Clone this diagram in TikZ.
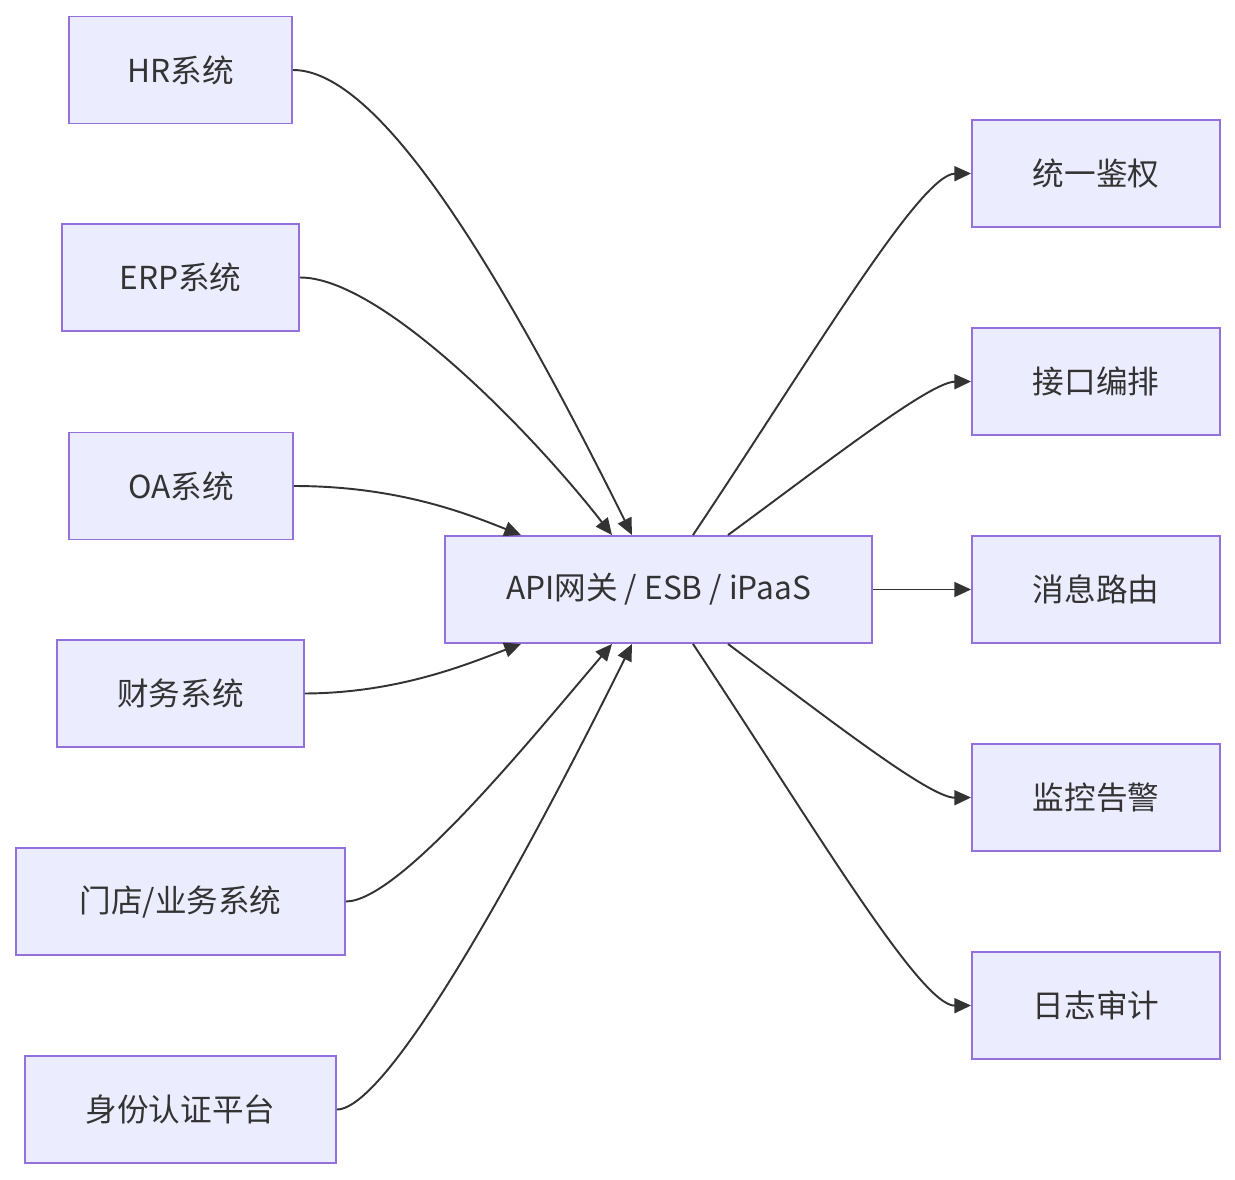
\documentclass[tikz,border=0pt]{standalone}
\usepackage{fontspec}
\setmainfont{Noto Sans CJK SC}
\usepackage{tikz}
\usetikzlibrary{arrows.meta,calc,positioning}
\definecolor{boxfill}{HTML}{ECECFF}
\definecolor{boxline}{HTML}{9370DB}
\definecolor{edgecol}{HTML}{333333}
\tikzset{
    mybox/.style={draw=boxline,fill=boxfill,line width=1.1pt,text=edgecol,minimum height=2.14cm,inner sep=0pt,font=\fontsize{18}{21}\selectfont},
    myedge/.style={line width=1.1pt,draw=edgecol,-{Triangle[length=9.5pt,width=8.5pt]}}
}
\begin{document}
\begin{tikzpicture}[x=0.02cm,y=-0.02cm]
  \useasboundingbox (0,0) rectangle (1235,1180);
  % sources
  \node[mybox,minimum width=4.46cm] (hr)  at (180.5,70)    {HR系统};
  \node[mybox,minimum width=4.74cm] (erp) at (180.5,277.5) {ERP系统};
  \node[mybox,minimum width=4.48cm] (oa)  at (181,486)     {OA系统};
  \node[mybox,minimum width=4.94cm] (fin) at (180.5,693.5) {财务系统};
  \node[mybox,minimum width=6.58cm] (biz) at (180.5,901.5) {门店/业务系统};
  \node[mybox,minimum width=6.22cm] (idp) at (180.5,1109.5) {身份认证平台};
  % gateway
  \node[mybox,minimum width=8.54cm] (gw) at (658.5,589.5) {API网关 / ESB / iPaaS};
  % functions
  \node[mybox,minimum width=4.96cm] (auth) at (1096,173.5)  {统一鉴权};
  \node[mybox,minimum width=4.96cm] (orch) at (1096,381.5)  {接口编排};
  \node[mybox,minimum width=4.96cm] (msg)  at (1096,589.5)  {消息路由};
  \node[mybox,minimum width=4.96cm] (mon)  at (1096,797.5)  {监控告警};
  \node[mybox,minimum width=4.96cm] (log)  at (1096,1005.5) {日志审计};

  \coordinate (gwN1) at ($(gw.north)+(-26.5,0)$);
  \coordinate (gwN2) at ($(gw.north)+(-46.5,0)$);
  \coordinate (gwN3) at ($(gw.north)+(-137.5,0)$);
  \coordinate (gwS1) at ($(gw.south)+(-26.5,0)$);
  \coordinate (gwS2) at ($(gw.south)+(-46.5,0)$);
  \coordinate (gwS3) at ($(gw.south)+(-137.5,0)$);
  \coordinate (gwN4) at ($(gw.north)+(34.5,0)$);
  \coordinate (gwN5) at ($(gw.north)+(69.5,0)$);
  \coordinate (gwS4) at ($(gw.south)+(34.5,0)$);
  \coordinate (gwS5) at ($(gw.south)+(69.5,0)$);

  \draw[myedge] (hr.east)  .. controls (380,70) and (500,270) .. (gwN1);
  \draw[myedge] (erp.east) .. controls (380,277) and (530,430) .. (gwN2);
  \draw[myedge] (oa.east)  .. controls (400,486) and (470,515) .. (gwN3);
  \draw[myedge] (fin.east) .. controls (400,693) and (470,663) .. (gwS3);
  \draw[myedge] (biz.east) .. controls (400,901) and (530,740) .. (gwS2);
  \draw[myedge] (idp.east) .. controls (390,1109) and (530,850) .. (gwS1);

  \draw[myedge] (gwN4) .. controls (810,360) and (920,174) .. (auth.west);
  \draw[myedge] (gwN5) .. controls (830,460) and (930,382) .. (orch.west);
  \draw[myedge] (gw.east) -- (msg.west);
  \draw[myedge] (gwS5) .. controls (830,720) and (930,798) .. (mon.west);
  \draw[myedge] (gwS4) .. controls (810,820) and (920,1006) .. (log.west);
\end{tikzpicture}
\end{document}
